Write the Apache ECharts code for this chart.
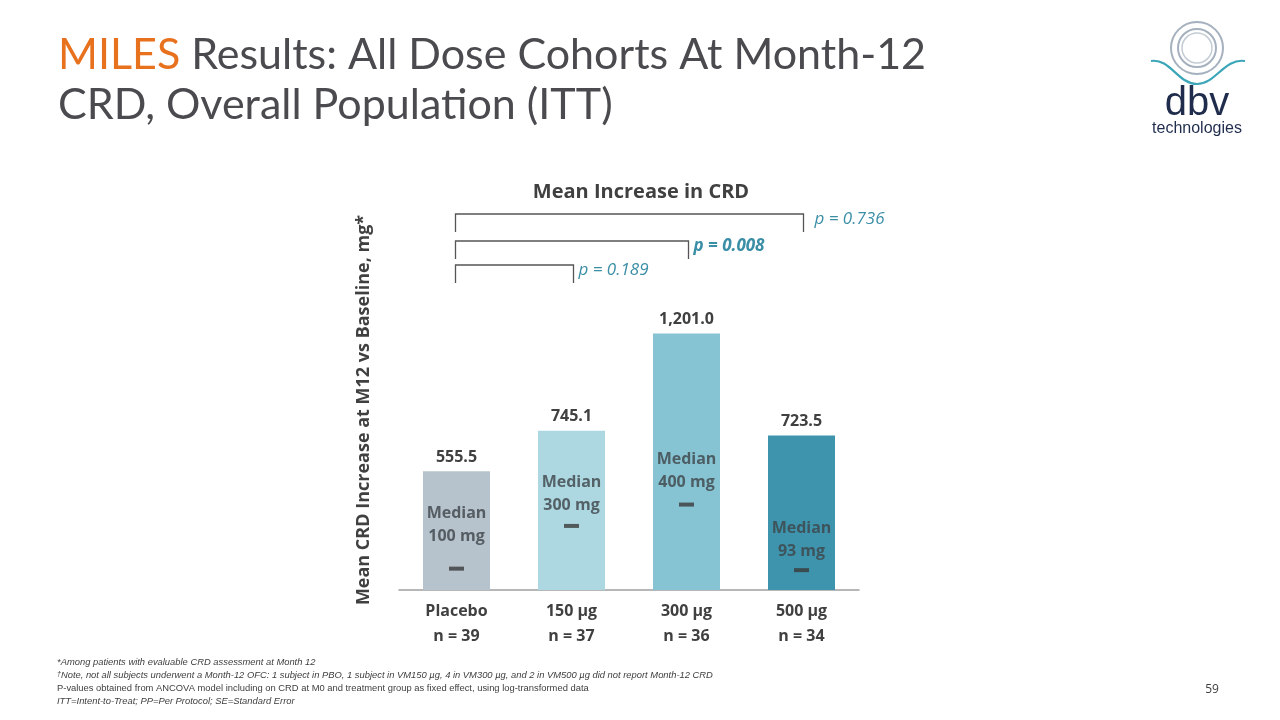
<!DOCTYPE html>
<html><head><meta charset="utf-8">
<script src="https://cdn.jsdelivr.net/npm/echarts@6/dist/echarts.min.js"></script>
<style>html,body{margin:0;padding:0;background:#fff}#c{width:1280px;height:720px}</style>
</head><body><div id="c"></div>
<script>
const categories = ['Placebo', '150 µg', '300 µg', '500 µg'];
const nLabels = ['n = 39', 'n = 37', 'n = 36', 'n = 34'];
const meanValues = [555.5, 745.1, 1201.0, 723.5];
const meanLabels = ['555.5', '745.1', '1,201.0', '723.5'];
const medianValues = [100, 300, 400, 93];
const barColors = ['#b6c3cc', '#add8e1', '#87c4d3', '#3e94ac'];
const pComparisons = [
  { to: '500 µg', text: 'p = 0.736', bold: false },
  { to: '300 µg', text: 'p = 0.008', bold: true },
  { to: '150 µg', text: 'p = 0.189', bold: false }
];
const footnotes = [
  { t: '*Among patients with evaluable CRD assessment at Month 12', i: true },
  { t: '{s|\u2020}Note, not all subjects underwent a Month-12 OFC: 1 subject in PBO, 1 subject in VM150 µg, 4 in VM300 µg, and 2 in VM500 µg did not report Month-12 CRD', i: true },
  { t: 'P-values obtained from ANCOVA model including on CRD at M0 and treatment group as fixed effect, using log-transformed data', i: false },
  { t: 'ITT=Intent-to-Treat; PP=Per Protocol; SE=Standard Error', i: true }
];

const TXT = '#404040';
const TEAL = '#3a8ea6';
const FF = '"Open Sans", "Noto Sans", sans-serif';
const chart = echarts.init(document.getElementById('c'), null, { renderer: 'canvas' });

const medianDistances = [19, 7, 9, 5];

chart.setOption({
  animation: false,
  grid: { left: 399, right: 421, top: 291, bottom: 130 },
  xAxis: {
    type: 'category', data: categories,
    axisLine: { lineStyle: { color: '#a0a0a0', width: 1.5 } },
    axisTick: { show: false },
    axisLabel: {
      margin: 9, fontFamily: FF, fontWeight: 'bold', fontSize: 16, color: TXT, lineHeight: 25,
      formatter: (v, i) => v + '\n' + nLabels[i]
    }
  },
  yAxis: { type: 'value', min: 0, max: 1400, show: false, splitLine: { show: false } },
  series: [
    {
      type: 'bar', barWidth: 67,
      data: meanValues.map((v, i) => ({ value: v, itemStyle: { color: barColors[i] } })),
      label: {
        show: true, position: 'top', distance: 6, fontFamily: FF, fontWeight: 'bold', fontSize: 16, color: TXT,
        formatter: p => meanLabels[p.dataIndex]
      }
    },
    {
      type: 'scatter', symbol: 'rect', symbolSize: [15, 4],
      itemStyle: { color: '#3a3a3a' },
      data: medianValues.map((v, i) => ({
        value: [categories[i], v],
        label: { distance: medianDistances[i] }
      })),
      label: {
        show: true, position: 'top', fontFamily: FF, fontWeight: 'bold', fontSize: 16, color: '#3d4348', lineHeight: 23,
        formatter: p => 'Median\n' + medianValues[p.dataIndex] + ' mg'
      }
    }
  ]
});

const gfx = [];
// title
gfx.push({ type: 'text', x: 58, y: 55, style: { text: '{o|MILES} Results: All Dose Cohorts At Month-12', rich: { o: { fill: '#e8711e', fontSize: 43, fontFamily: 'Lato, sans-serif' } }, fill: '#4a4a4f', fontSize: 43, fontFamily: 'Lato, sans-serif', verticalAlign: 'middle' } });
gfx.push({ type: 'text', x: 58, y: 105, style: { text: 'CRD, Overall Population (ITT)', fill: '#4a4a4f', fontSize: 43, fontFamily: 'Lato, sans-serif', verticalAlign: 'middle' } });
// chart title
gfx.push({ type: 'text', x: 641, y: 192, style: { text: 'Mean Increase in CRD', fill: TXT, fontSize: 20, fontWeight: 'bold', fontFamily: FF, align: 'center', verticalAlign: 'middle' } });
// y axis title
gfx.push({ type: 'text', x: 364, y: 410, rotation: Math.PI / 2, style: { text: 'Mean CRD Increase at M12 vs Baseline, mg*', fill: TXT, fontSize: 18, fontWeight: 'bold', fontFamily: FF, align: 'center', verticalAlign: 'middle' } });

// brackets
const x0 = chart.convertToPixel({ xAxisIndex: 0 }, categories[0]) - 1;
const bracketTops = [214, 241, 265];
const pOffsets = [11, 5, 5];
pComparisons.forEach((c, k) => {
  const x1 = chart.convertToPixel({ xAxisIndex: 0 }, c.to) + 2;
  const yt = bracketTops[k];
  gfx.push({ type: 'polyline', shape: { points: [[x0, yt + 18], [x0, yt], [x1, yt], [x1, yt + 18]] }, style: { stroke: '#555', lineWidth: 1.3, fill: null } });
  gfx.push({ type: 'text', x: x1 + pOffsets[k], y: yt + 5, style: { text: c.text, fill: TEAL, fontSize: 17, fontStyle: 'italic', fontWeight: c.bold ? 'bold' : 'normal', fontFamily: FF, verticalAlign: 'middle' } });
});

// footnotes
footnotes.forEach((f, i) => {
  gfx.push({ type: 'text', x: 57, y: 662 + i * 13, style: { text: f.t, rich: { s: { fontSize: 7, verticalAlign: 'top', fill: TXT, fontStyle: 'italic', fontFamily: '"Liberation Sans", sans-serif' } }, fill: TXT, fontSize: 9.4, fontStyle: f.i ? 'italic' : 'normal', fontFamily: '"Liberation Sans", sans-serif', verticalAlign: 'middle' } });
});
gfx.push({ type: 'text', x: 1212, y: 690, style: { text: '59', fill: TXT, fontSize: 12, fontFamily: FF, align: 'center', verticalAlign: 'middle' } });

// logo
gfx.push({ type: 'circle', shape: { cx: 1197, cy: 48, r: 26 }, style: { stroke: '#a5b1be', lineWidth: 2, fill: null } });
gfx.push({ type: 'circle', shape: { cx: 1197, cy: 48, r: 19 }, style: { stroke: '#a5b1be', lineWidth: 2, fill: null } });
gfx.push({ type: 'circle', shape: { cx: 1197, cy: 48, r: 15 }, style: { stroke: '#c3ccd5', lineWidth: 1.5, fill: null } });
gfx.push({ type: 'bezierCurve', shape: { x1: 1151, y1: 61, cpx1: 1170, cpy1: 58, cpx2: 1178, cpy2: 84, x2: 1197, y2: 84 }, style: { stroke: '#3ba6b8', lineWidth: 2.2, fill: null } });
gfx.push({ type: 'bezierCurve', shape: { x1: 1197, y1: 84, cpx1: 1216, cpy1: 84, cpx2: 1224, cpy2: 58, x2: 1245, y2: 61 }, style: { stroke: '#3ba6b8', lineWidth: 2.2, fill: null } });
gfx.push({ type: 'text', x: 1197, y: 104, style: { text: 'dbv', fill: '#1f2c4c', fontSize: 40, fontFamily: '"Liberation Sans", sans-serif', align: 'center', verticalAlign: 'middle' } });
gfx.push({ type: 'text', x: 1197, y: 129, style: { text: 'technologies', fill: '#1f2c4c', fontSize: 16, fontFamily: '"Liberation Sans", sans-serif', align: 'center', verticalAlign: 'middle' } });

chart.setOption({ graphic: { elements: gfx } });
</script></body></html>
